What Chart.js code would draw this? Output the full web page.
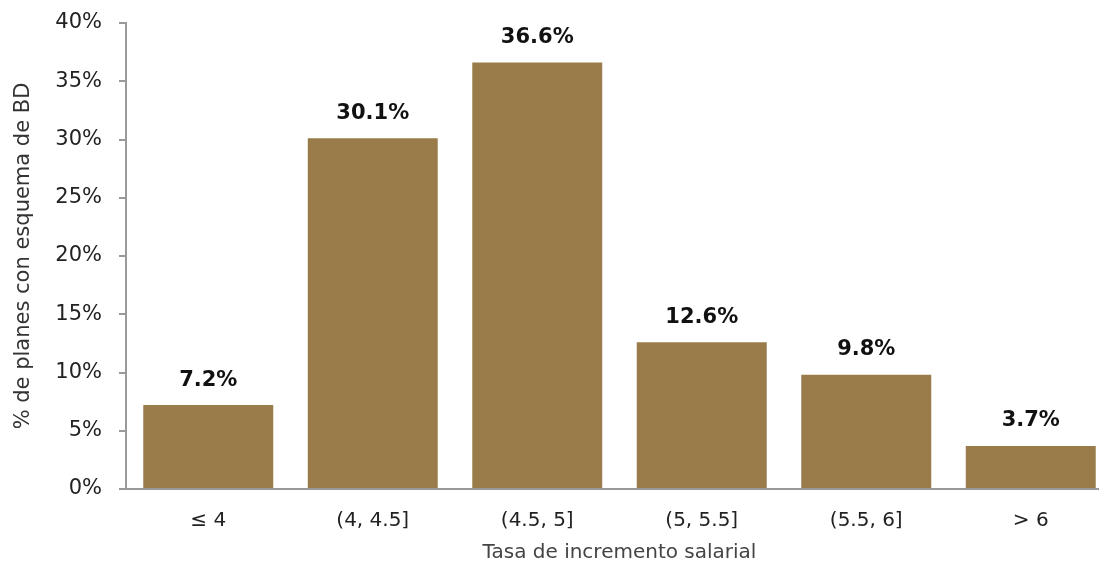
<!DOCTYPE html>
<html>
<head>
<meta charset="utf-8">
<script src="https://cdn.jsdelivr.net/npm/chart.js@4/dist/chart.umd.min.js"></script>
<style>
  html, body { margin: 0; padding: 0; background: #fff; overflow: hidden; }
  #wrap { width: 1113px; height: 565px; position: relative; }
</style>
</head>
<body>
<div id="wrap"><canvas id="planChart"></canvas></div>
<script>
const categories = ["\u2264 4", "(4, 4.5]", "(4.5, 5]", "(5, 5.5]", "(5.5, 6]", "> 6"];
const planShare = [7.2, 30.1, 36.6, 12.6, 9.8, 3.7];
const yTicks = [0, 5, 10, 15, 20, 25, 30, 35, 40];

const FONT = "'DejaVu Sans', sans-serif";
const BAR_COLOR = "#9a7c4a";

// value labels above each bar
const barLabels = {
    id: "barLabels",
    afterDatasetsDraw(chart) {
        const ctx = chart.ctx;
        const meta = chart.getDatasetMeta(0);
        ctx.save();
        ctx.font = "bold 21px " + FONT;
        ctx.fillStyle = "#111";
        ctx.textAlign = "center";
        ctx.textBaseline = "middle";
        meta.data.forEach((bar, i) => {
            ctx.fillText(planShare[i].toFixed(1) + "%", bar.x, bar.y - 25);
        });
        ctx.restore();
    }
};

document.addEventListener("DOMContentLoaded", () => {
    const canvas = document.getElementById("planChart");
    const ctx = canvas.getContext("2d");

    new Chart(ctx, {
        type: "bar",
        data: {
            labels: categories,
            datasets: [{
                data: planShare,
                backgroundColor: BAR_COLOR,
                barPercentage: 0.79,
                categoryPercentage: 1.0
            }]
        },
        options: {
            responsive: true,
            maintainAspectRatio: false,
            animation: false,
            devicePixelRatio: 1,
            layout: { padding: { top: 23, left: 0, right: 0, bottom: 0 } },
            plugins: {
                legend: { display: false },
                tooltip: { enabled: false }
            },
            scales: {
                x: {
                    grid: { display: false, drawTicks: false },
                    border: { display: true, color: "#999", width: 2 },
                    ticks: { color: "#222", font: { family: FONT, size: 20 }, padding: 20 },
                    title: {
                        display: true,
                        text: "Tasa de incremento salarial",
                        color: "#444",
                        font: { family: FONT, size: 20 },
                        padding: { top: 3, bottom: 0 }
                    },
                    afterFit(scale) {
                        scale.height = 76;
                        scale.paddingLeft = 0;
                        scale.paddingRight = 0;
                    }
                },
                y: {
                    min: 0,
                    max: 40,
                    afterBuildTicks(scale) {
                        scale.ticks = yTicks.map(v => ({ value: v }));
                    },
                    grid: {
                        display: true,
                        drawOnChartArea: false,
                        drawTicks: true,
                        tickLength: 7,
                        color: "#999",
                        lineWidth: 2
                    },
                    border: { display: true, color: "#999", width: 2 },
                    ticks: {
                        color: "#222",
                        font: { family: FONT, size: 21 },
                        padding: 17,
                        callback: v => v + "%"
                    },
                    title: {
                        display: true,
                        text: "% de planes con esquema de BD",
                        color: "#333",
                        font: { family: FONT, size: 21 },
                        padding: { top: 11, bottom: 0 }
                    },
                    afterFit(scale) {
                        scale.width = 126;
                        scale.paddingTop = 0;
                        scale.paddingBottom = 0;
                    }
                }
            }
        },
        plugins: [barLabels]
    });
});
</script>
</body>
</html>
